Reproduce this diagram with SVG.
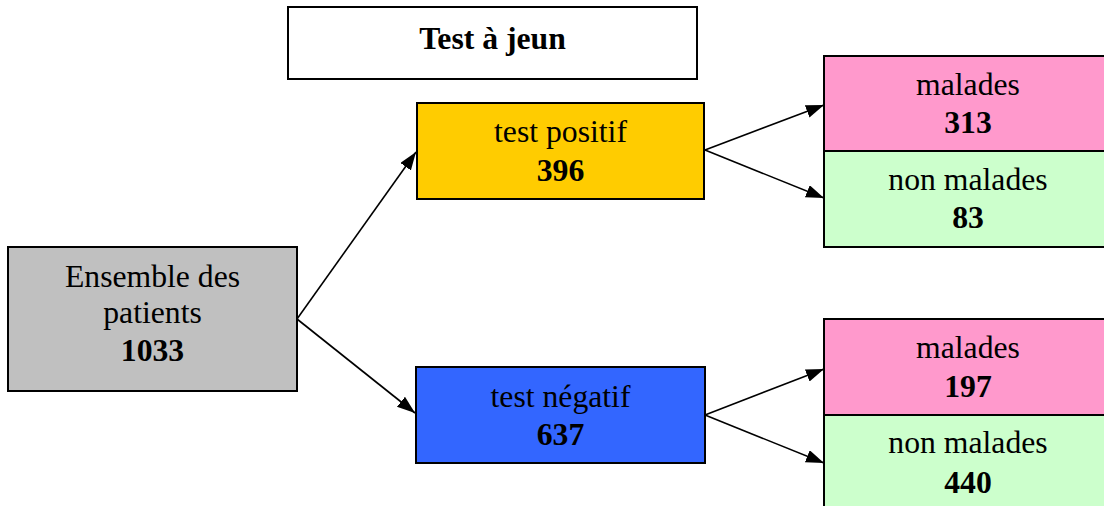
<svg xmlns="http://www.w3.org/2000/svg" width="1104" height="506" viewBox="0 0 1104 506">
<style>
.box{stroke:#000;stroke-width:2}
.t{font-family:"Liberation Serif","Times New Roman",serif;font-size:31.7px;text-anchor:middle;fill:#000}
.b{font-weight:bold}
.c{stroke:#000;stroke-width:1.6;fill:none;marker-end:url(#ah)}
</style>
<defs>
<marker id="ah" markerUnits="userSpaceOnUse" markerWidth="20" markerHeight="14" refX="18" refY="6.5" orient="auto">
<path d="M0,0 L18,6.5 L0,13 Z" fill="#000"/>
</marker>
</defs>
<rect width="1104" height="506" fill="#fff"/>
<g id="title">
<rect class="box" x="288" y="7" width="409" height="72" fill="#fff"/>
<text class="t b" x="492.5" y="49">Test à jeun</text>
</g>
<g id="ensemble">
<rect class="box" x="8" y="247" width="289" height="144" fill="#C0C0C0"/>
<text class="t" x="152.5" y="287">Ensemble des</text>
<text class="t" x="152.5" y="323">patients</text>
<text class="t b" x="152.5" y="361">1033</text>
</g>
<g id="positif">
<rect class="box" x="417" y="103" width="287" height="96" fill="#FFCC00"/>
<text class="t" x="560.5" y="142">test positif</text>
<text class="t b" x="560.5" y="181">396</text>
</g>
<g id="negatif">
<rect class="box" x="416" y="367" width="289" height="96" fill="#3366FF"/>
<text class="t" x="560.5" y="407">test négatif</text>
<text class="t b" x="560.5" y="445">637</text>
</g>
<g id="pos-malades">
<rect class="box" x="824" y="56" width="290" height="95" fill="#FF99CC"/>
<text class="t" x="968" y="95">malades</text>
<text class="t b" x="968" y="133">313</text>
</g>
<g id="pos-nonmalades">
<rect class="box" x="824" y="151" width="290" height="96" fill="#CCFFCC"/>
<text class="t" x="968" y="190">non malades</text>
<text class="t b" x="968" y="228">83</text>
</g>
<g id="neg-malades">
<rect class="box" x="824" y="319" width="290" height="96" fill="#FF99CC"/>
<text class="t" x="968" y="358">malades</text>
<text class="t b" x="968" y="397">197</text>
</g>
<g id="neg-nonmalades">
<rect class="box" x="824" y="415" width="290" height="100" fill="#CCFFCC"/>
<text class="t" x="968" y="453">non malades</text>
<text class="t b" x="968" y="493">440</text>
</g>
<g id="connectors">
<line class="c" x1="297" y1="319" x2="416" y2="152"/>
<line class="c" x1="297" y1="319" x2="415" y2="413"/>
<line class="c" x1="705" y1="150" x2="824" y2="105"/>
<line class="c" x1="705" y1="150" x2="824" y2="198"/>
<line class="c" x1="705" y1="415" x2="824" y2="369"/>
<line class="c" x1="705" y1="415" x2="824" y2="463"/>
</g>
</svg>
